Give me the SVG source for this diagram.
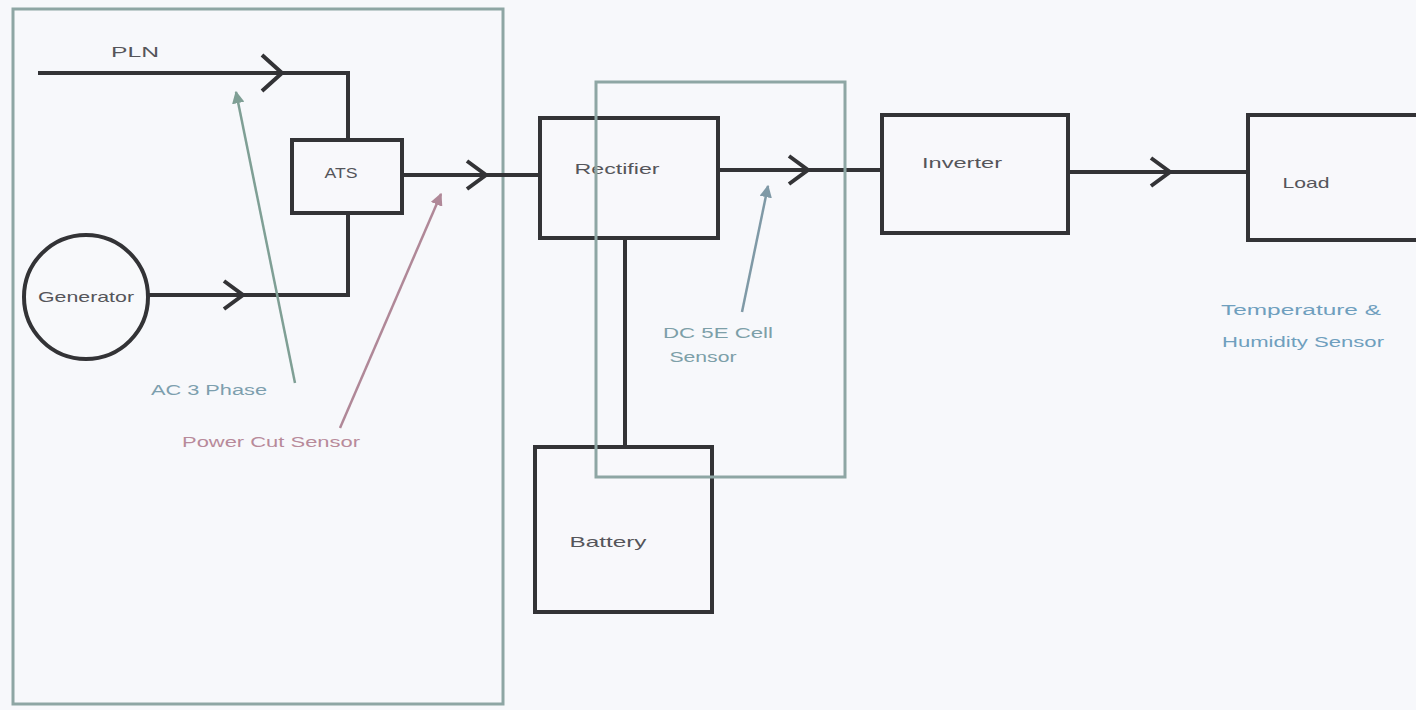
<svg xmlns="http://www.w3.org/2000/svg" width="1416" height="710" viewBox="0 0 1416 710">
<defs>
<style>
.bg{fill:#f7f8fb}
.zone{fill:none;stroke:#8ea6a4;stroke-width:3}
.box{fill:#f8f8fb;stroke:#333336;stroke-width:4}
.wire{fill:none;stroke:#333336;stroke-width:4}
.chev{fill:none;stroke:#333336;stroke-width:4;stroke-linejoin:miter}
.lbl{font-family:"Liberation Sans",Arial,sans-serif;font-size:15px;fill:#55555a}
.sens{font-family:"Liberation Sans",Arial,sans-serif;font-size:14px}
</style>
<marker id="ahG" viewBox="0 0 10 10" refX="9" refY="5" markerWidth="5" markerHeight="5" orient="auto"><path d="M0,0 L10,5 L0,10 z" fill="#7f9f95"/></marker>
<marker id="ahR" viewBox="0 0 10 10" refX="9" refY="5" markerWidth="5" markerHeight="5" orient="auto"><path d="M0,0 L10,5 L0,10 z" fill="#b08898"/></marker>
<marker id="ahB" viewBox="0 0 10 10" refX="9" refY="5" markerWidth="5" markerHeight="5" orient="auto"><path d="M0,0 L10,5 L0,10 z" fill="#7f99a6"/></marker>
</defs>
<rect class="bg" x="0" y="0" width="1416" height="710"/>
<rect class="zone" x="13" y="9" width="490" height="695"/>

<g id="connectors">
<polyline class="wire" points="38,73 348,73 348,140"/>
<polyline class="chev" points="262,55 282,73 262,91"/>
<polyline class="wire" points="148,295 348,295 348,213"/>
<polyline class="chev" points="224,281 243,295 224,309"/>
<line class="wire" x1="402" y1="175" x2="540" y2="175"/>
<polyline class="chev" points="467,161 486,175 467,189"/>
<line class="wire" x1="718" y1="170" x2="882" y2="170"/>
<polyline class="chev" points="789,156 808,170 789,184"/>
<line class="wire" x1="1068" y1="172" x2="1248" y2="172"/>
<polyline class="chev" points="1151,158 1170,172 1151,186"/>
<line class="wire" x1="625" y1="238" x2="625" y2="447"/>
<line x1="295" y1="383" x2="236" y2="92" stroke="#7f9f95" stroke-width="2.5" marker-end="url(#ahG)"/>
<line x1="340" y1="428" x2="441" y2="194" stroke="#b08898" stroke-width="2.5" marker-end="url(#ahR)"/>
<line x1="742" y1="312" x2="768" y2="186" stroke="#7f99a6" stroke-width="2.5" marker-end="url(#ahB)"/>
</g>

<g id="generator">
<circle cx="86" cy="297" r="62" fill="#f8f9fb" stroke="#333336" stroke-width="4"/>
<text class="lbl" x="86" y="302" text-anchor="middle" textLength="96" lengthAdjust="spacingAndGlyphs">Generator</text>
</g>
<g id="pln">
<text class="lbl" x="135" y="57" text-anchor="middle" textLength="48" lengthAdjust="spacingAndGlyphs">PLN</text>
</g>
<g id="ats">
<rect class="box" x="292" y="140" width="110" height="73"/>
<text class="lbl" x="341" y="178" text-anchor="middle" textLength="33" lengthAdjust="spacingAndGlyphs">ATS</text>
</g>
<g id="rectifier">
<rect class="box" x="540" y="118" width="178" height="120"/>
<text class="lbl" x="617" y="174" text-anchor="middle" textLength="85" lengthAdjust="spacingAndGlyphs">Rectifier</text>
</g>
<g id="inverter">
<rect class="box" x="882" y="115" width="186" height="118"/>
<text class="lbl" x="962" y="168" text-anchor="middle" textLength="80" lengthAdjust="spacingAndGlyphs">Inverter</text>
</g>
<g id="load">
<rect class="box" x="1248" y="115" width="172" height="125"/>
<text class="lbl" x="1306" y="188" text-anchor="middle" textLength="47" lengthAdjust="spacingAndGlyphs">Load</text>
</g>
<g id="battery">
<rect class="box" x="535" y="447" width="177" height="165"/>
<text class="lbl" x="608" y="547" text-anchor="middle" textLength="77" lengthAdjust="spacingAndGlyphs">Battery</text>
</g>

<rect class="zone" x="596" y="82" width="249" height="395"/>

<g id="ac-sensor">
<text class="sens" x="209" y="395" text-anchor="middle" fill="#7d9fae" textLength="116" lengthAdjust="spacingAndGlyphs">AC 3 Phase</text>
</g>
<g id="power-cut-sensor">
<text class="sens" x="271" y="447" text-anchor="middle" fill="#b88a9a" textLength="178" lengthAdjust="spacingAndGlyphs">Power Cut Sensor</text>
</g>
<g id="dc-sensor">
<text class="sens" x="718" y="338" text-anchor="middle" fill="#7d9fa8" textLength="110" lengthAdjust="spacingAndGlyphs">DC 5E Cell</text>
<text class="sens" x="703" y="362" text-anchor="middle" fill="#7d9fa8" textLength="67" lengthAdjust="spacingAndGlyphs">Sensor</text>
</g>
<g id="temp-sensor">
<text class="sens" x="1301" y="315" text-anchor="middle" fill="#6f9fbe" textLength="160" lengthAdjust="spacingAndGlyphs">Temperature &amp;</text>
<text class="sens" x="1303" y="347" text-anchor="middle" fill="#6f9fbe" textLength="162" lengthAdjust="spacingAndGlyphs">Humidity Sensor</text>
</g>
</svg>
